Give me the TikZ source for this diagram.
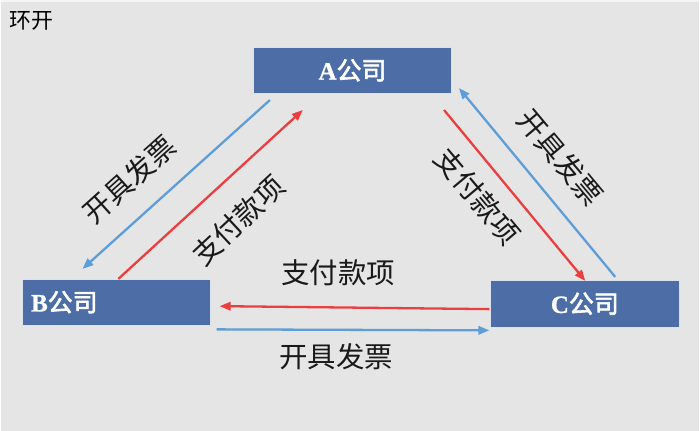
\documentclass[tikz,border=0pt]{standalone}
\usepackage{fontspec}
\setmainfont{Noto Sans CJK SC}
\newfontfamily\boxfont{Noto Sans CJK SC}[FakeBold=2.5]
\newfontfamily\boxlat{Liberation Serif}[FakeBold=1]
\usetikzlibrary{arrows.meta,calc}
\definecolor{bg}{RGB}{229,229,229}
\definecolor{boxblue}{RGB}{76,109,166}
\definecolor{lblue}{RGB}{93,157,216}
\definecolor{lred}{RGB}{236,62,62}
\newcommand{\ctxt}[1]{{\boxlat\bfseries #1}公司}
\tikzset{
  company/.style={fill=boxblue, draw=white!80!boxblue, line width=0.6pt, text=white, font=\boxfont\fontsize{25}{25}\selectfont, inner sep=0pt},
  conn/.style={line width=2.3pt, -{Triangle[length=11pt,width=8.5pt]}},
  bluec/.style={conn, draw=lblue},
  redc/.style={conn, draw=lred},
  lab/.style={font=\fontsize{28.5}{28.5}\selectfont, text=black!90, inner sep=0pt},
}
\begin{document}
\begin{tikzpicture}[x=1pt,y=-1pt]
\fill[bg] (0,0) rectangle (700,432);
\draw[white!60!bg, line width=2pt] (0,1) -- (700,1);
\useasboundingbox (0,0) rectangle (700,432);
\node[anchor=north west, font=\fontsize{22}{22}\selectfont, inner sep=0pt] (title) at (8,11) {环开};
\node[company, minimum width=199pt, minimum height=47pt] (A) at (352.5,70.5) {\ctxt{A}};
\node[company, minimum width=189pt, minimum height=46pt] (B) at (115.5,303) {};
\node[anchor=west, text=white, font=\boxfont\fontsize{25}{25}\selectfont, inner sep=0pt] (Bt) at (30,303) {\ctxt{B}};
\node[company, minimum width=189pt, minimum height=47pt] (C) at (585.5,304.5) {\ctxt{C}};
% A -> B blue
\coordinate (ab1) at ($(A.south west)+(17,6)$);
\coordinate (ab2) at ($(B.north west)+(61,-10)$);
\draw[bluec] (ab1) -- (ab2);
% B -> A red
\coordinate (ba1) at ($(B.north west)+(97,0)$);
\coordinate (ba2) at ($(A.south west)+(50,16)$);
\draw[redc] (ba1) -- (ba2);
% A -> C red
\coordinate (ac1) at ($(A.south east)+(-8,16)$);
\coordinate (ac2) at ($(C.north)+(0.5,1)$);
\draw[redc] (ac1) -- (ac2);
% C -> A blue
\coordinate (ca1) at ($(C.north)+(30.5,-3)$);
\coordinate (ca2) at ($(A.south east)+(7,-6)$);
\draw[bluec] (ca1) -- (ca2);
% C -> B red
\coordinate (cb1) at ($(C.west)+(-1,5.5)$);
\coordinate (cb2) at ($(B.east)+(9,4)$);
\draw[redc] (cb1) -- (cb2);
% B -> C blue
\coordinate (bc1) at ($(B.south east)+(6,4)$);
\coordinate (bc2) at ($(C.south west)+(-1,3)$);
\draw[bluec] (bc1) -- (bc2);
% labels
\node[lab, rotate=42] (l1) at (129,180) {开具发票};
\node[lab, rotate=43] (l2) at (238,221) {支付款项};
\node[lab, rotate=-50] (l3) at (478,197) {支付款项};
\node[lab, rotate=-50] (l4) at (561,158) {开具发票};
\node[lab] (l5) at (338,274) {支付款项};
\node[lab] (l6) at (336,358) {开具发票};
\end{tikzpicture}
\end{document}
